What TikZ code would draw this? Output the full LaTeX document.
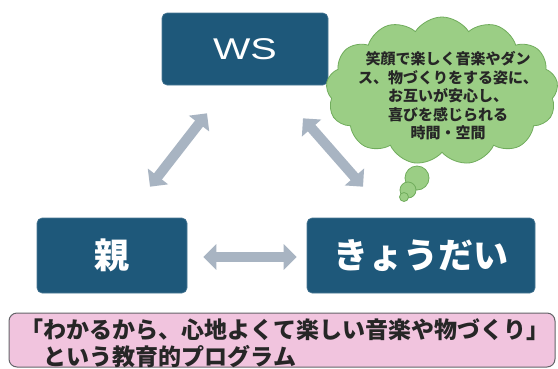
\documentclass[tikz,border=0pt]{standalone}
\usepackage{fontspec}
\usepackage{graphicx}
\newfontfamily\jp{Noto Sans CJK JP}
\newfontfamily\lat{Liberation Sans}
\usetikzlibrary{shapes.symbols,arrows.meta,calc}
\definecolor{boxblue}{RGB}{30,88,122}
\definecolor{arrgray}{RGB}{168,180,194}
\definecolor{cloudg}{RGB}{155,206,133}
\definecolor{cloudd}{RGB}{112,172,92}
\definecolor{pinkf}{RGB}{241,196,222}
\definecolor{pinkd}{RGB}{100,100,105}
\tikzset{
  bluebox/.style={draw=boxblue!80!white, line width=0.6pt, fill=boxblue, rounded corners=5pt, text=white, inner sep=0pt},
  biarrow/.style={draw=arrgray, line width=10pt, {Triangle[width=25pt,length=13pt]}-{Triangle[width=25pt,length=13pt]}},
  cloudbox/.style={cloud, cloud puffs=13, cloud puff arc=115, aspect=1.6, draw=cloudd, line width=0.8pt, fill=cloudg, inner sep=0pt},
  bubble/.style={circle, draw=cloudd, line width=0.8pt, fill=cloudg, inner sep=0pt},
  pinkbox/.style={draw=pinkd, line width=1pt, fill=pinkf, rounded corners=8pt, inner sep=0pt}
}
\begin{document}
\begin{tikzpicture}[x=1pt,y=-1pt]
\useasboundingbox (0,0) rectangle (558,368);
\fill[white] (0,0) rectangle (558,368);
% boxes
\node[bluebox, minimum width=166pt, minimum height=72pt] (ws) at (245,49)
  {\lat\fontsize{30}{32}\selectfont\scalebox{1.32}[1]{WS}};
\node[bluebox, minimum width=150pt, minimum height=75pt] (oya) at (112,255.5)
  {\jp\bfseries\fontsize{35}{38}\selectfont 親};
\node[bluebox, minimum width=228pt, minimum height=75pt] (kyo) at (421,255.5)
  {\jp\bfseries\fontsize{35}{38}\selectfont きょうだい};
% cloud
\node[cloudbox, minimum width=232pt, minimum height=148pt] (cl) at (442,91) {};
\node[bubble, minimum size=24pt] (b1) at (417,178) {};
\node[bubble, minimum size=16pt] (b2) at (408,190) {};
\node[bubble, minimum size=9pt] (b3) at (404,197) {};
\node[align=center, font=\jp\bfseries\fontsize{15}{18.5}\selectfont, text=black!85] (cltext) at (448,96)
  {笑顔で楽しく音楽やダン\\ス、物づくりをする姿に、\\お互いが安心し、\\喜びを感じられる\\時間・空間};
% arrows
\draw[biarrow] ($(oya.north)+(38,-31)$) -- ($(ws.south)+(-38,28)$);
\draw[biarrow] ($(ws.south)+(58,33)$) -- ($(kyo.north)+(-58,-31)$);
\draw[biarrow] ($(oya.east)+(16,1.5)$) -- ($(kyo.west)+(-10,1.5)$);
% program box
\node[pinkbox, minimum width=546pt, minimum height=54pt] (prog) at (282,340) {};
\node[anchor=west, align=left, inner sep=0pt, font=\jp\bfseries\fontsize{23}{27}\selectfont, text=black!85] (progtext) at ($(prog.west)+(12,3)$)
  {「わかるから、心地よくて楽しい音楽や物づくり」\\　という教育的プログラム};
\end{tikzpicture}
\end{document}
